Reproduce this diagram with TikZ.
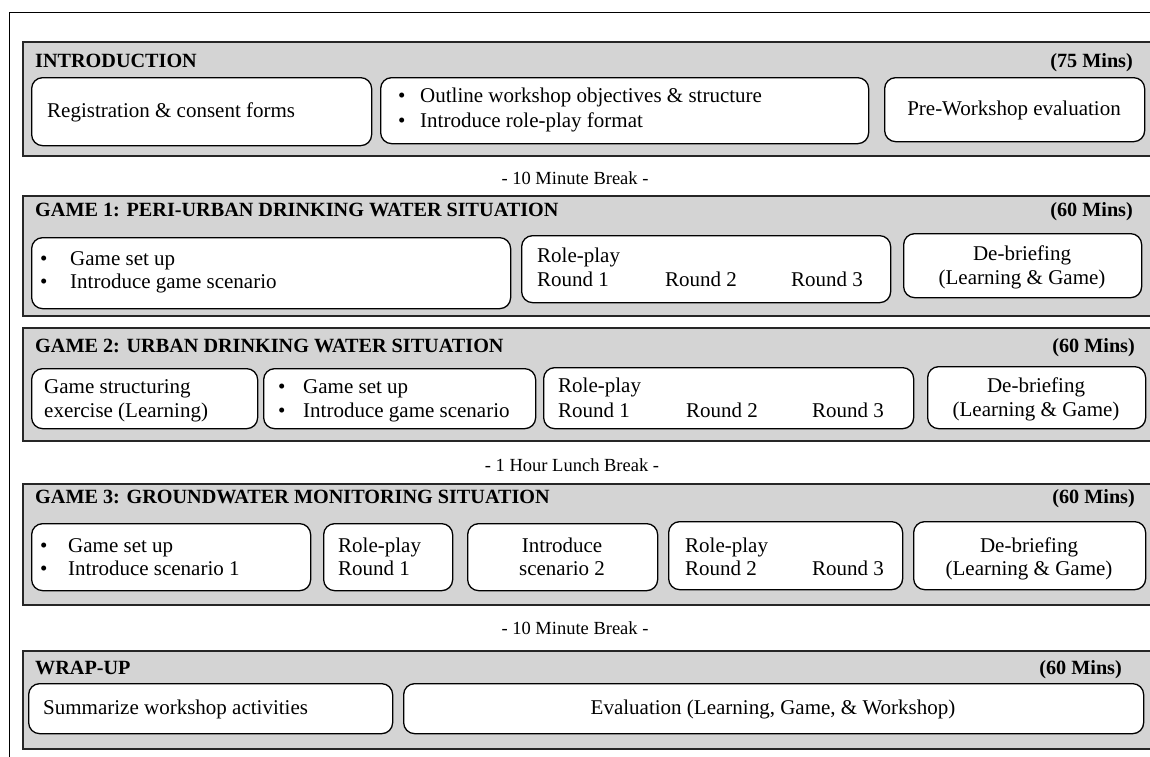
\documentclass[tikz,border=0pt]{standalone}
\usepackage{fontspec}
\setmainfont{Liberation Serif}
\begin{document}
\begin{tikzpicture}[x=1pt,y=-1pt,
  panel/.style={draw=black!85,line width=1.6pt,fill=black!17},
  box/.style={draw=black,line width=1.3pt,fill=white,rounded corners=11pt,inner sep=0pt,anchor=north west},
  hd/.style={font=\fontsize{20.2}{22}\selectfont\bfseries,inner sep=0pt},
  tx/.style={font=\fontsize{21}{22}\selectfont,inner sep=0pt,anchor=base west},
  tc/.style={font=\fontsize{21}{22}\selectfont,inner sep=0pt,anchor=base},
  brk/.style={font=\fontsize{18.5}{20}\selectfont,inner sep=0pt,anchor=base}]
\newcommand{\rbox}[5]{\node[box,minimum width={(#4)-(#2)},minimum height={(#5)-(#3)}] (#1) at (#2,#3) {};}
\useasboundingbox (0,0) rectangle (1150,756);
\clip (0,0) rectangle (1150,756);
\fill[white] (0,0) rectangle (1150,756);
% outer frame
\node[draw=black,line width=1.3pt,anchor=north west,minimum width=1200,minimum height=800,inner sep=0pt] (frame) at (9,12) {};
% panels
\node[panel,anchor=north west,minimum width=1200,minimum height=114,inner sep=0pt] (P1) at (22,41) {};
\node[panel,anchor=north west,minimum width=1200,minimum height=120,inner sep=0pt] (P2) at (22,195) {};
\node[panel,anchor=north west,minimum width=1200,minimum height=113,inner sep=0pt] (P3) at (22,327) {};
\node[panel,anchor=north west,minimum width=1200,minimum height=121,inner sep=0pt] (P4) at (22,483) {};
\node[panel,anchor=north west,minimum width=1200,minimum height=98,inner sep=0pt] (P5) at (22,650) {};

% ---------- INTRODUCTION
\node[hd,anchor=base west] (h1) at (35,67) {INTRODUCTION};
\node[hd,anchor=base east] (m1) at (1133,67) {(75 Mins)};
\rbox{a1}{31}{77}{371}{145}
\rbox{a2}{380}{77}{868}{143}
\rbox{a3}{884}{77}{1144}{141}
\node[tx] (a1t) at (47,117) {Registration \& consent forms};
\node[tx] (a2b1) at (398,102) {•};
\node[tx] (a2t1) at (420,102) {Outline workshop objectives \& structure};
\node[tx] (a2b2) at (398,127) {•};
\node[tx] (a2t2) at (420,127) {Introduce role-play format};
\node[tc] (a3t) at (1014,115) {Pre-Workshop evaluation};

\node[brk] (br1) at (575,184) {- 10 Minute Break -};

% ---------- GAME 1
\node[hd,anchor=base west] (h2) at (35,216) {GAME 1: PERI-URBAN DRINKING WATER SITUATION};
\node[hd,anchor=base east] (m2) at (1133,216) {(60 Mins)};
\rbox{b1}{31}{237}{510}{308}
\rbox{b2}{521}{235}{890}{302}
\rbox{b3}{903}{233}{1141}{297}
\node[tx] (b1b1) at (40,265) {•};
\node[tx] (b1t1) at (70,265) {Game set up};
\node[tx] (b1b2) at (40,288) {•};
\node[tx] (b1t2) at (70,288) {Introduce game scenario};
\node[tx] (b2t0) at (537,262) {Role-play};
\node[tx] (b2r1) at (537,286) {Round 1};
\node[tx] (b2r2) at (665,286) {Round 2};
\node[tx] (b2r3) at (791,286) {Round 3};
\node[tc] (b3t1) at (1022,260) {De-briefing};
\node[tc] (b3t2) at (1022,284) {(Learning \& Game)};

% ---------- GAME 2
\node[hd,anchor=base west] (h3) at (35,352) {GAME 2: URBAN DRINKING WATER SITUATION};
\node[hd,anchor=base east] (m3) at (1135,352) {(60 Mins)};
\rbox{c1}{31}{368}{257}{428}
\rbox{c2}{263}{368}{535}{428}
\rbox{c3}{543}{367}{913}{428}
\rbox{c4}{927}{366}{1145}{428}
\node[tx] (c1t1) at (44,393) {Game structuring};
\node[tx] (c1t2) at (44,417) {exercise (Learning)};
\node[tx] (c2b1) at (278,393) {•};
\node[tx] (c2t1) at (303,393) {Game set up};
\node[tx] (c2b2) at (278,417) {•};
\node[tx] (c2t2) at (303,417) {Introduce game scenario};
\node[tx] (c3t0) at (558,392) {Role-play};
\node[tx] (c3r1) at (558,417) {Round 1};
\node[tx] (c3r2) at (686,417) {Round 2};
\node[tx] (c3r3) at (812,417) {Round 3};
\node[tc] (c4t1) at (1036,392) {De-briefing};
\node[tc] (c4t2) at (1036,416) {(Learning \& Game)};

\node[brk] (br2) at (572,471) {- 1 Hour Lunch Break -};

% ---------- GAME 3
\node[hd,anchor=base west] (h4) at (35,503) {GAME 3: GROUNDWATER MONITORING SITUATION};
\node[hd,anchor=base east] (m4) at (1135,503) {(60 Mins)};
\rbox{d1}{31}{523}{310}{590}
\rbox{d2}{323}{523}{452}{590}
\rbox{d3}{467}{523}{657}{590}
\rbox{d4}{668}{521}{902}{589}
\rbox{d5}{913}{521}{1145}{589}
\node[tx] (d1b1) at (40,552) {•};
\node[tx] (d1t1) at (68,552) {Game set up};
\node[tx] (d1b2) at (40,575) {•};
\node[tx] (d1t2) at (68,575) {Introduce scenario 1};
\node[tx] (d2t1) at (338,552) {Role-play};
\node[tx] (d2t2) at (338,575) {Round 1};
\node[tc] (d3t1) at (562,552) {Introduce};
\node[tc] (d3t2) at (562,575) {scenario 2};
\node[tx] (d4t0) at (685,552) {Role-play};
\node[tx] (d4r2) at (685,575) {Round 2};
\node[tx] (d4r3) at (812,575) {Round 3};
\node[tc] (d5t1) at (1029,552) {De-briefing};
\node[tc] (d5t2) at (1029,575) {(Learning \& Game)};

\node[brk] (br3) at (575,634) {- 10 Minute Break -};

% ---------- WRAP-UP
\node[hd,anchor=base west] (h5) at (35,674) {WRAP-UP};
\node[hd,anchor=base east] (m5) at (1122,674) {(60 Mins)};
\rbox{e1}{28}{683}{392}{733}
\rbox{e2}{403}{683}{1143}{733}
\node[tx] (e1t) at (43,714) {Summarize workshop activities};
\node[tc] (e2t) at (773,714) {Evaluation (Learning, Game, \& Workshop)};
\end{tikzpicture}
\end{document}
